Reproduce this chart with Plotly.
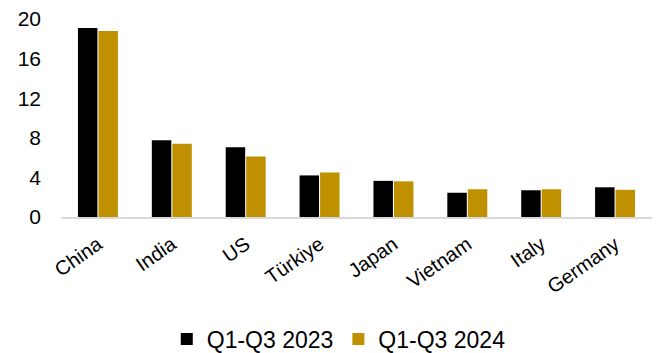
import plotly.graph_objects as go

# Countries and values for the two periods
countries = ["China", "India", "US", "Türkiye", "Japan", "Vietnam", "Italy", "Germany"]
q1q3_2023 = [19.1, 7.75, 7.05, 4.2, 3.65, 2.45, 2.7, 3.0]
q1q3_2024 = [18.8, 7.4, 6.1, 4.5, 3.6, 2.8, 2.8, 2.75]
y_ticks = [0, 4, 8, 12, 16, 20]

FONT = "Liberation Sans, Arial, sans-serif"

fig = go.Figure()
fig.add_trace(go.Bar(x=countries, y=q1q3_2023, name="Q1-Q3 2023",
                     marker=dict(color="#000000", line=dict(width=0))))
fig.add_trace(go.Bar(x=countries, y=q1q3_2024, name="Q1-Q3 2024",
                     marker=dict(color="#BF9000", line=dict(width=0))))

fig.update_layout(
    width=659, height=353,
    margin=dict(l=61, r=7, t=19, b=136, autoexpand=False),
    paper_bgcolor="white", plot_bgcolor="white",
    barmode="group", bargap=0.445, bargroupgap=0.05,
    font=dict(family=FONT, color="#000000"),
    legend=dict(orientation="h", x=0.47, xanchor="center",
                y=-0.616, yanchor="middle",
                font=dict(size=23, family=FONT), itemwidth=30,
                traceorder="normal"),
)
fig.update_xaxes(
    showgrid=False, showline=True, linecolor="#D9D9D9", linewidth=2,
    ticks="", tickangle=-35, tickfont=dict(size=20, family=FONT),
    ticklabelstandoff=6, automargin=False,
)
fig.update_yaxes(
    range=[0, 20], tickvals=y_ticks, showgrid=False, zeroline=False,
    showline=False, ticks="", tickfont=dict(size=21, family=FONT),
    ticklabelstandoff=19, automargin=False,
)

fig.write_html("out.html")
